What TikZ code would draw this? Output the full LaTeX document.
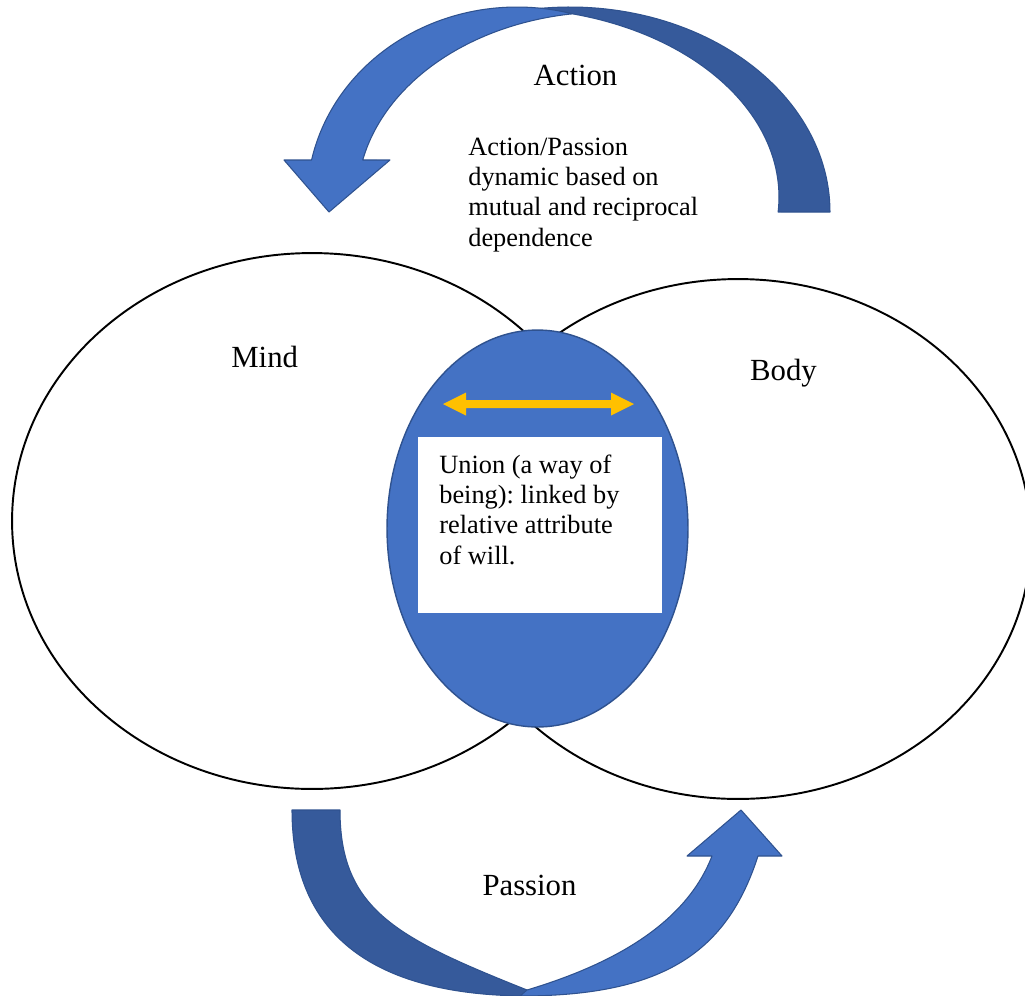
\documentclass[tikz,border=0pt]{standalone}
\usepackage{fontspec}
\setmainfont{Liberation Serif}
\frenchspacing
\usetikzlibrary{shapes.geometric}
\definecolor{lightblue}{HTML}{4472C4}
\definecolor{darkblue}{HTML}{365A9B}
\definecolor{edgeblue}{HTML}{2F528F}
\definecolor{gold}{HTML}{FFC000}
\tikzset{
  bigcircle/.style={ellipse, draw=black, line width=1.1pt, inner sep=0pt},
  unionshape/.style={ellipse, fill=lightblue, draw=edgeblue, line width=0.8pt, inner sep=0pt},
  biglabel/.style={font=\fontsize{17.5}{21}\selectfont, inner sep=0pt, anchor=base},
  smalltext/.style={font=\fontsize{15}{17.2}\selectfont\frenchspacing, inner sep=0pt, align=left, anchor=base west},
  lightband/.style={fill=lightblue, draw=edgeblue, line width=0.6pt, line join=round},
  darkband/.style={fill=darkblue, draw=edgeblue, line width=0.6pt, line join=round},
}
\begin{document}
\begin{tikzpicture}[x=0.02cm, y=-0.02cm]
\useasboundingbox (0,0) rectangle (1025,995);
\fill[white] (0,0) rectangle (1025,995);

% top curved arrow (Action)
\path[darkband] plot[domain=98.85:0, samples=60, variable=\t] ({570+260*cos(\t)},{212-205*sin(\t)})
  -- plot[domain=-4.55:84.77, samples=60, variable=\t] ({505+274*cos(\t)},{197-189*sin(\t)}) -- cycle;
\path[lightband] plot[domain=168.04:74.82, samples=60, variable=\t] ({517+210*cos(\t)},{200-193*sin(\t)})
  -- plot[domain=98.05:167.71, samples=60, variable=\t] ({607+250*cos(\t)},{200-188*sin(\t)})
  -- (390,160) -- (329,212) -- (284,160) -- cycle;

% bottom curved arrow (Passion)
\path[darkband] (292,810) .. controls (292,930) and (367,996) .. (530,996)
  -- (527,990) .. controls (397,938) and (340,910) .. (340,810) -- cycle;
\path[lightband] (520,996) .. controls (665,996) and (727.2,951.2) .. (758,856)
  -- (782,856) -- (741,810) -- (687,856) -- (712,856)
  .. controls (686.5,921.8) and (617,963) .. (527,990) -- cycle;

% circles
\node[bigcircle, minimum width=12cm, minimum height=10.72cm] (mind) at (312,521) {};
\node[bigcircle, minimum width=11.72cm, minimum height=10.4cm] (body) at (738,539) {};
\node[unionshape, minimum width=6.02cm, minimum height=7.94cm] (union) at (537.5,528.5) {};

% white box in the union
\node[fill=white, inner sep=0pt, minimum width=4.88cm, minimum height=3.52cm] (box) at (540,525) {};

% double arrow
\fill[gold] (443,404) -- (466,392.5) -- (466,400) -- (611,400) -- (611,392.5) -- (634,404)
  -- (611,415.5) -- (611,408) -- (466,408) -- (466,415.5) -- cycle;

% labels
\node[biglabel] (mindlabel) at (264.7,367) {Mind};
\node[biglabel] (bodylabel) at (783.5,380) {Body};
\node[biglabel] (actionlabel) at (575.5,85) {Action};
\node[biglabel] (passionlabel) at (529.5,895) {Passion};
\node[smalltext] (desc) at (468,246) {Action/Passion\\dynamic based on\\mutual and reciprocal\\dependence};
\node[smalltext] (uniontext) at (439,564) {Union (a way of\\being): linked by\\relative attribute\\of will.};
\end{tikzpicture}
\end{document}
